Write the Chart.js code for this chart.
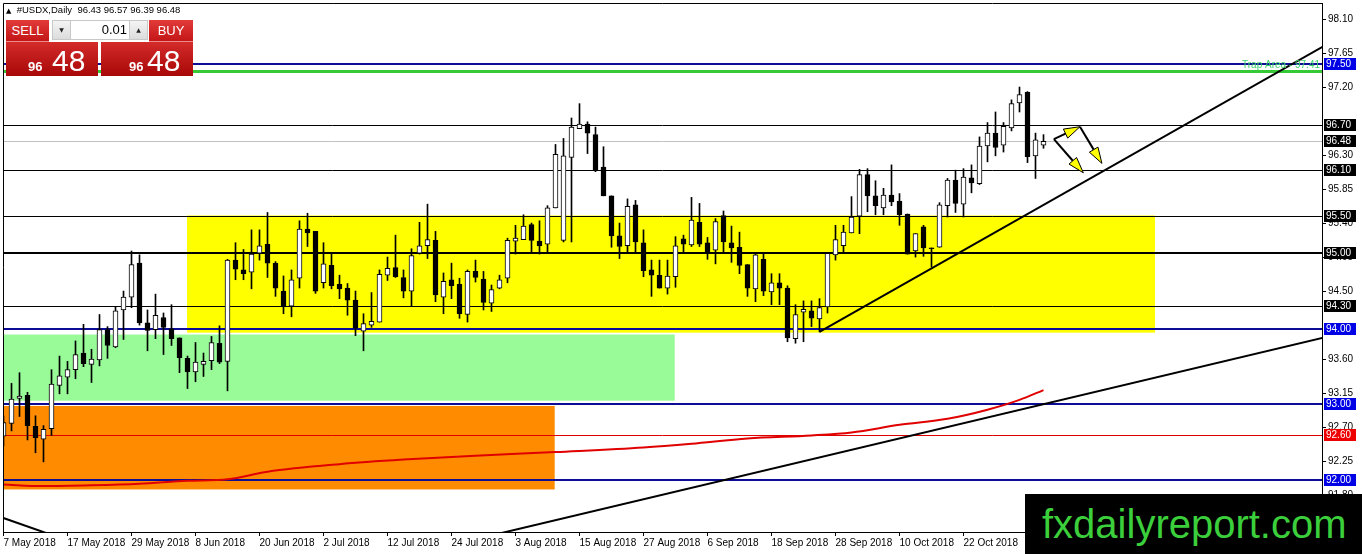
<!DOCTYPE html>
<html>
<head>
<meta charset="utf-8">
<script src="https://cdn.jsdelivr.net/npm/chart.js@4.4.1/dist/chart.umd.min.js"></script>
<style>
  html, body { margin:0; padding:0; background:#fff; }
  #wrap { position:relative; width:1362px; height:554px; overflow:hidden; font-family:"Liberation Sans", "DejaVu Sans", sans-serif; }
  #kurs { position:absolute; left:0; top:0; }
  .hdr { position:absolute; left:6px; top:5px; font-size:9.5px; line-height:9.5px; color:#000; white-space:pre; }
  .hdr .tri { font-family:"DejaVu Sans"; font-size:7px; }
  .btn { position:absolute; top:20px; height:22px; width:44px; color:#fff; font-size:13px; line-height:22px; text-align:center;
         background:linear-gradient(#e23a3a, #c41616); border-bottom:1px solid #ee8a8a; box-sizing:border-box; }
  .sell { left:6px; width:43px; }
  .buy { left:149px; }
  .lot { position:absolute; left:52px; top:20px; width:96px; height:20px; background:#fff; border:1px solid #c8c8c8; box-sizing:border-box; }
  .lot .dn, .lot .up { position:absolute; top:0; width:17px; height:18px; background:linear-gradient(#f4f4f4,#dcdcdc);
         font-family:"DejaVu Sans"; font-size:6px; line-height:18px; text-align:center; color:#222; }
  .lot .dn { left:0; border-right:1px solid #c8c8c8; }
  .lot .up { right:0; border-left:1px solid #c8c8c8; }
  .lot .val { position:absolute; right:20px; top:0; font-size:13px; line-height:18px; color:#000; }
  .px { position:absolute; top:42px; width:92px; height:34px; background:linear-gradient(#d42a2a, #a80808); color:#fff; }
  .p1 { left:6px; }
  .p2 { left:101px; }
  .px .s { position:absolute; font-size:13px; line-height:13px; top:18px; font-weight:bold; }
  .px .b { position:absolute; font-size:30px; line-height:30px; top:4px; }
  .wm { position:absolute; left:1025px; top:494px; width:337px; height:60px; background:#000; color:#3ccf3c;
        font-size:40px; line-height:40px; padding-left:17px; padding-top:10px; box-sizing:border-box; white-space:nowrap; }
</style>
</head>
<body>
<div id="wrap">
  <canvas id="kurs" width="1362" height="554"></canvas>
  <div class="hdr"><span class="tri">▲</span>  #USDX,Daily  96.43 96.57 96.39 96.48</div>
  <div class="btn sell">SELL</div>
  <div class="lot"><span class="dn">▼</span><span class="val">0.01</span><span class="up">▲</span></div>
  <div class="btn buy">BUY</div>
  <div class="px p1"><span class="s" style="left:22px">96</span><span class="b" style="left:46px">48</span></div>
  <div class="px p2"><span class="s" style="left:28px">96</span><span class="b" style="left:46px">48</span></div>
  <div class="wm">fxdailyreport.com</div>
</div>
<script>
const ctx = document.getElementById('kurs');

/* =========================
   DATA HARIAN USDX (bar ke-0 = 7 May 2018)
========================= */
const opens  = [92.58,92.75,93.08,93.12,92.71,92.54,92.68,93.25,93.36,93.46,93.68,93.53,93.59,93.99,93.76,94.25,94.42,94.87,94.08,93.99,
                94.15,94.00,93.88,93.61,93.43,93.53,93.58,93.81,93.57,94.91,94.78,94.75,95.00,95.12,94.87,94.50,94.30,94.67,95.32,95.29,
                94.61,94.84,94.59,94.54,94.38,93.97,94.05,94.09,94.71,94.81,94.68,94.50,95.00,95.10,95.17,94.42,94.65,94.59,94.19,94.76,
                94.66,94.34,94.54,94.67,95.16,95.18,95.38,95.16,95.12,95.60,95.17,96.27,96.65,96.71,96.57,96.14,95.76,95.23,95.10,95.64,
                95.14,94.78,94.71,94.54,94.69,95.19,95.11,95.41,95.14,95.04,95.50,95.14,95.08,94.85,94.53,94.92,94.49,94.61,94.54,93.87,
                94.22,94.24,94.13,94.29,94.98,95.10,95.27,95.49,96.04,95.76,95.60,95.77,95.69,95.52,95.03,95.35,95.07,95.08,95.63,95.97,
                95.65,96.00,95.92,96.42,96.59,96.43,96.66,96.99,97.13,96.29,96.43];
const highs  = [92.85,93.28,93.42,93.16,92.85,92.72,93.46,93.64,93.57,93.84,94.06,93.73,94.19,94.03,94.29,94.50,95.03,94.98,94.25,94.46,
                94.21,94.32,93.88,93.64,93.82,93.68,93.90,94.04,94.92,95.14,95.05,95.31,95.31,95.54,94.89,94.70,94.78,95.43,95.53,95.29,
                95.14,95.00,94.71,94.60,94.50,94.20,94.48,94.78,94.95,95.24,94.78,95.06,95.41,95.65,95.29,94.74,94.87,94.67,94.78,94.91,
                94.76,94.58,94.71,95.20,95.37,95.51,95.40,95.43,95.63,96.44,96.52,96.79,96.98,96.74,96.67,96.41,95.76,95.40,95.72,95.70,
                95.31,94.91,94.91,94.91,95.22,95.24,95.74,95.66,95.21,95.46,95.56,95.36,95.28,94.85,94.99,94.99,94.73,94.73,94.57,94.32,
                94.37,94.37,94.40,95.00,95.37,95.37,95.75,96.11,96.12,95.96,95.86,96.17,95.79,95.52,95.26,95.37,95.07,95.67,95.99,96.10,
                96.12,96.17,96.54,96.73,96.87,96.73,97.03,97.20,97.14,96.59,96.57];
const lows   = [92.45,92.65,92.84,92.53,92.36,92.24,92.59,93.14,93.14,93.34,93.50,93.29,93.51,93.61,93.75,93.86,94.28,94.05,93.71,93.87,
                93.66,93.78,93.42,93.21,93.30,93.37,93.46,93.54,93.18,94.65,94.65,94.53,94.91,94.68,94.43,94.20,94.16,94.54,95.09,94.47,
                94.54,94.53,94.40,94.18,93.91,93.71,94.02,94.09,94.64,94.68,94.41,94.30,94.99,94.93,94.36,94.20,94.40,94.14,94.09,94.62,
                94.25,94.23,94.53,94.61,94.99,95.18,95.01,94.99,95.01,95.60,95.15,95.15,96.65,96.32,96.08,95.76,95.08,94.93,95.02,95.02,
                94.69,94.43,94.54,94.46,94.55,95.02,95.09,95.09,94.92,94.86,95.02,94.88,94.73,94.43,94.36,94.44,94.32,94.32,93.83,93.81,
                93.83,94.03,93.96,94.21,94.91,95.01,95.27,95.26,95.55,95.51,95.51,95.63,95.37,94.99,94.95,94.96,94.82,95.08,95.48,95.54,
                95.48,95.80,95.91,96.21,96.29,96.34,96.62,96.87,96.20,95.99,96.39];
const closes = [92.76,93.07,93.11,92.72,92.56,92.67,93.27,93.38,93.46,93.66,93.54,93.60,93.99,93.78,94.24,94.42,94.85,94.08,93.98,94.18,
                94.02,93.87,93.62,93.43,93.56,93.57,93.82,93.56,94.91,94.79,94.73,94.99,95.10,94.87,94.54,94.29,94.65,95.32,95.27,94.50,
                94.86,94.57,94.53,94.38,94.01,94.07,94.10,94.72,94.80,94.69,94.50,94.97,95.10,95.18,94.45,94.63,94.57,94.20,94.76,94.68,
                94.35,94.52,94.65,95.17,95.20,95.36,95.17,95.10,95.60,96.31,96.29,96.67,96.71,96.59,96.10,95.76,95.23,95.09,95.62,95.15,
                94.77,94.71,94.54,94.70,95.10,95.12,95.44,95.12,95.01,95.42,95.15,95.07,94.84,94.54,94.98,94.50,94.61,94.54,93.88,94.19,
                94.26,94.14,94.28,95.00,95.18,95.28,95.48,96.04,95.76,95.63,95.77,95.68,95.51,94.99,95.26,95.07,95.06,95.64,95.97,95.66,
                96.01,95.93,96.42,96.59,96.40,96.68,96.98,97.10,96.28,96.50,96.48];

/* moving average merah (titik) */
const maBars   = [0, 5, 11, 17, 23, 28, 33, 42, 50, 59, 69, 80, 86, 93, 101, 106, 112, 118, 123, 127, 130];
const maValues = [91.94,91.92,91.93,91.95,91.99,92.01,92.11,92.21,92.27,92.32,92.37,92.43,92.48,92.55,92.59,92.63,92.73,92.81,92.93,93.06,93.19];

/* garis tren: [bar awal, harga awal, bar akhir, harga akhir] */
const trendUp   = [102, 93.96, 166, 97.80];
const trendLow  = [60, 91.242, 166, 93.91];
const trendLeft = [-2, 91.57, 8, 91.20];

/* level horizontal */
const levels    = [97.50, 97.41, 96.70, 96.48, 96.10, 95.50, 95.00, 94.30, 94.00, 93.00, 92.60, 92.00];
const tagLevels = [97.50, 96.70, 96.48, 96.10, 95.50, 95.00, 94.30, 94.00, 93.00, 92.60, 92.00];
const trapLabel = 'Trap Area - 97.41';

/* zona persegi: [bar kiri, bar kanan, harga bawah, harga atas] */
const zoneYellow = [22.94, 143.94, 93.95, 95.50];
const zoneGreen  = [-5, 83.9, 93.05, 93.925];
const zoneOrange = [-5, 68.9, 91.875, 92.98];

/* panah kuning: [bar, harga] dari -> ke */
const arrows = [
  [131.3, 96.51, 134.56, 96.675],
  [134.56, 96.675, 137.3, 96.19],
  [131.3, 96.51, 134.98, 96.065]
];

/* sumbu */
const xTickLabels = ['7 May 2018','17 May 2018','29 May 2018','8 Jun 2018','20 Jun 2018','2 Jul 2018','12 Jul 2018','24 Jul 2018',
                     '3 Aug 2018','15 Aug 2018','27 Aug 2018','6 Sep 2018','18 Sep 2018','28 Sep 2018','10 Oct 2018','22 Oct 2018'];
const barsPerLabel = 8;
const yTickValues = [91.80, 92.25, 92.70, 93.15, 93.60, 94.50, 94.95, 95.40, 95.85, 96.30, 97.20, 97.65, 98.10];

/* =========================
   GAYA
========================= */
const NAVY = '#0c0c96';
const levelStyle = {
  '97.50':{c:NAVY,w:2}, '97.41':{c:'#36c936',w:3}, '96.70':{c:'#000',w:1}, '96.48':{c:'#c0c0c0',w:1},
  '96.10':{c:'#000',w:1}, '95.50':{c:'#000',w:1}, '95.00':{c:'#000',w:2}, '94.30':{c:'#000',w:1},
  '94.00':{c:NAVY,w:2}, '93.00':{c:NAVY,w:2}, '92.60':{c:'#e00000',w:1}, '92.00':{c:NAVY,w:2}
};
const tagColor = {'97.50':'#0000e6', '94.00':'#0000e6', '93.00':'#0000e6', '92.00':'#0000e6', '92.60':'#ee0000'};
const FONT = '"Liberation Sans", "DejaVu Sans", sans-serif';

function xy(chart, bar, price){
  return [chart.scales.x.getPixelForValue(bar), chart.scales.y.getPixelForValue(price)];
}

/* =========================
   PLUGIN: ZONA & LEVEL (di belakang candle)
========================= */
const latarPlugin = {
  id:'latar',
  beforeDatasetsDraw(chart){
    const c = chart.ctx, a = chart.chartArea;
    c.save();
    c.beginPath(); c.rect(a.left, a.top, a.width, a.height); c.clip();
    [[zoneYellow,'#ffff00'],[zoneGreen,'#98fb98'],[zoneOrange,'#ff8c00']].forEach(([z,col]) => {
      const [x1,y1] = xy(chart, z[0], z[3]);
      const [x2,y2] = xy(chart, z[1], z[2]);
      c.fillStyle = col;
      c.fillRect(x1, y1, x2-x1, y2-y1);
    });
    levels.forEach(lv => {
      const s = levelStyle[lv.toFixed(2)] || {c:'#000', w:1};
      let y = Math.round(chart.scales.y.getPixelForValue(lv));
      if(s.w % 2) y += 0.5;
      c.strokeStyle = s.c; c.lineWidth = s.w;
      c.beginPath(); c.moveTo(a.left, y); c.lineTo(a.right, y); c.stroke();
    });
    c.restore();
  },
  afterDatasetsDraw(chart){
    const c = chart.ctx, a = chart.chartArea;
    c.save();
    // teks trap area
    const yt = chart.scales.y.getPixelForValue(97.41);
    c.font = '10px ' + FONT;
    c.fillStyle = '#3ccf6a';
    c.textAlign = 'right'; c.textBaseline = 'alphabetic';
    c.fillText(trapLabel, a.right - 2, yt - 3);
    // panah
    arrows.forEach(ar => {
      const [x1,y1] = xy(chart, ar[0], ar[1]);
      const [x2,y2] = xy(chart, ar[2], ar[3]);
      const len = Math.hypot(x2-x1, y2-y1);
      const ux = (x2-x1)/len, uy = (y2-y1)/len;
      const hl = 16, hw = 5;
      const bx = x2 - ux*hl, by = y2 - uy*hl;
      c.strokeStyle = '#000'; c.lineWidth = 2;
      c.beginPath(); c.moveTo(x1,y1); c.lineTo(bx,by); c.stroke();
      c.beginPath();
      c.moveTo(x2,y2);
      c.lineTo(bx - uy*hw, by + ux*hw);
      c.lineTo(bx + uy*hw, by - ux*hw);
      c.closePath();
      c.fillStyle = '#ffff00'; c.fill();
      c.lineWidth = 1; c.stroke();
    });
    c.restore();
  },
  afterDraw(chart){
    const c = chart.ctx, a = chart.chartArea;
    c.save();
    // bingkai
    c.strokeStyle = '#000'; c.lineWidth = 1;
    c.beginPath();
    c.moveTo(a.left + 0.5, a.bottom); c.lineTo(a.left + 0.5, a.top + 0.5); c.lineTo(a.right, a.top + 0.5);
    c.stroke();
    // label harga di sumbu kanan
    c.font = '10px ' + FONT;
    c.textAlign = 'left'; c.textBaseline = 'middle';
    tagLevels.forEach(lv => {
      const y = Math.round(chart.scales.y.getPixelForValue(lv));
      c.fillStyle = tagColor[lv.toFixed(2)] || '#000';
      c.fillRect(a.right + 2, y - 6, 32, 12);
      c.fillStyle = '#fff';
      c.fillText(lv.toFixed(2), a.right + 4, y + 0.5);
    });
    c.restore();
  }
};

/* =========================
   CHART
========================= */
const garis = (t, order) => ({
  type:'line',
  data:[{x:t[0], y:t[1]}, {x:t[2], y:t[3]}],
  borderColor:'#000', borderWidth:2, pointRadius:0, clip:0, order
});

const chartUSDX = new Chart(ctx, {
  type:'bar',
  data:{
    datasets:[
      {
        type:'line',
        label:'MA',
        data: maBars.map((b,k) => ({x:b, y:maValues[k]})),
        borderColor:'#e00000', borderWidth:2, pointRadius:0,
        cubicInterpolationMode:'monotone', clip:0, order:3
      },
      {
        label:'Sumbu',
        data: lows.map((l,i) => ({x:i, y:[l, highs[i]]})),
        backgroundColor:'#000', barThickness:1, grouped:false, order:2
      },
      {
        label:'Badan',
        data: opens.map((o,i) => ({x:i, y:[o, closes[i]]})),
        backgroundColor: (c) => closes[c.dataIndex] >= opens[c.dataIndex] ? '#fff' : '#000',
        borderColor:'#000', borderWidth:1, borderSkipped:false,
        barThickness:5, minBarLength:1, grouped:false, order:1
      },
      garis(trendUp, 0),
      garis(trendLow, 0),
      garis(trendLeft, 0)
    ]
  },
  options:{
    responsive:false,
    animation:false,
    events:[],
    devicePixelRatio:1,
    layout:{ padding:{left:3, top:3, right:0, bottom:0} },
    plugins:{ legend:{display:false}, tooltip:{enabled:false} },
    scales:{
      x:{
        type:'linear',
        offset:false,
        min:-0.0625, max:164.8125,
        afterBuildTicks:(s) => { s.ticks = xTickLabels.map((t,k) => ({value:k*barsPerLabel})); },
        afterFit:(s) => { s.height = 22; s.paddingLeft = 0; s.paddingRight = 0; },
        ticks:{
          callback:(v, idx) => xTickLabels[idx],
          align:'start', maxRotation:0, autoSkip:false, padding:1,
          color:'#000', font:{family:FONT, size:10}
        },
        grid:{ offset:false, drawOnChartArea:false, tickLength:4, color:'#000' },
        border:{ color:'#000' }
      },
      y:{
        type:'linear',
        position:'right',
        min:91.312, max:98.312,
        afterBuildTicks:(s) => { s.ticks = yTickValues.map(v => ({value:v})); },
        afterFit:(s) => { s.width = 40; s.paddingTop = 0; s.paddingBottom = 0; },
        ticks:{
          callback:(v) => Number(v).toFixed(2),
          padding:2, color:'#000', font:{family:FONT, size:10}
        },
        grid:{ drawOnChartArea:false, tickLength:4, color:'#000' },
        border:{ color:'#000' }
      }
    }
  },
  plugins:[latarPlugin]
});
</script>
</body>
</html>
